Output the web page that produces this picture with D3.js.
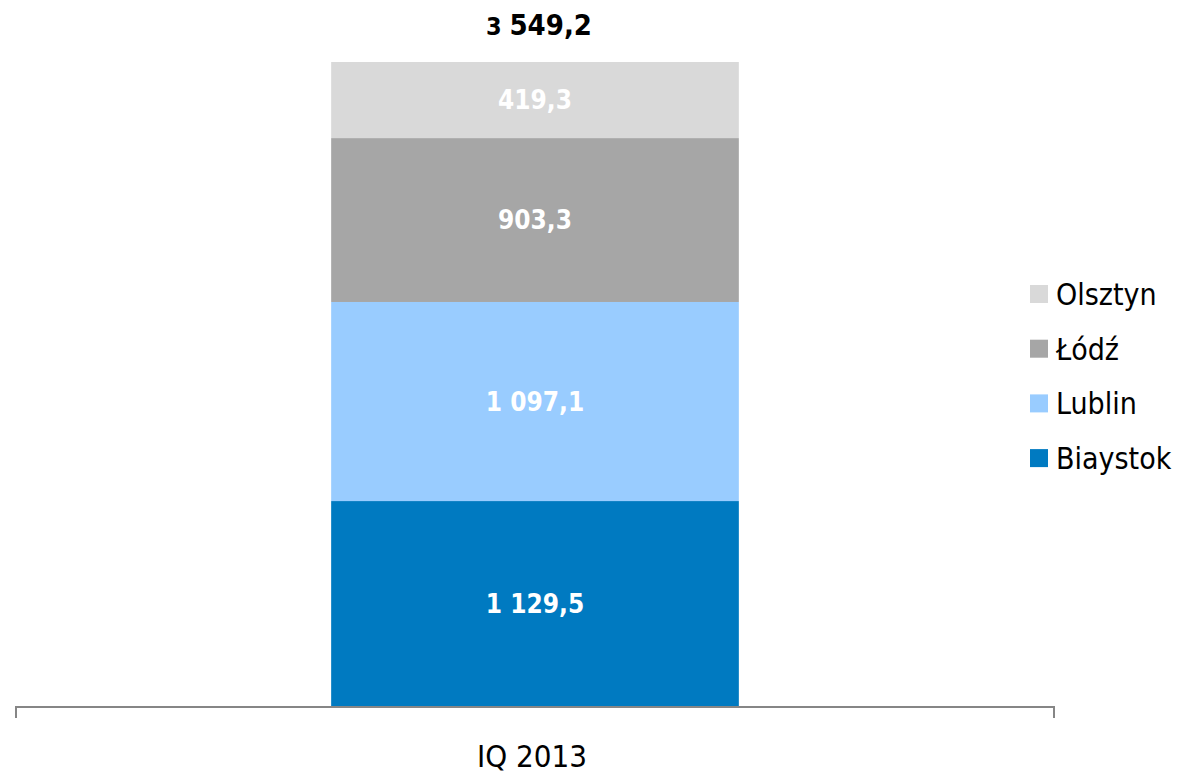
<!DOCTYPE html>
<html>
<head>
<meta charset="utf-8">
<script src="https://cdn.jsdelivr.net/npm/d3@7"></script>
<style>
  body { margin: 0; background: #fff; }
  svg { display: block; font-family: "DejaVu Sans Condensed", "DejaVu Sans", sans-serif; font-stretch: condensed; }
</style>
</head>
<body>
<svg id="chart"></svg>
<script>
// data
let categories = ["IQ 2013"];
let series = ["Biaystok", "Lublin", "Łódź", "Olsztyn"];
let values = {
  "Biaystok": [1129.5],
  "Lublin": [1097.1],
  "Łódź": [903.3],
  "Olsztyn": [419.3]
};
let colors = ["#007ac1", "#99ccff", "#a6a6a6", "#d9d9d9"];
let legendOrder = ["Olsztyn", "Łódź", "Lublin", "Biaystok"];

let store = {};

function fmt(v) {
  // polish style: space for thousands, comma for decimals
  let s = v.toFixed(1).replace(".", ",");
  let parts = s.split(",");
  let intPart = parts[0].replace(/\B(?=(\d{3})+(?!\d))/g, " ");
  return intPart + "," + parts[1];
}

function getConfig() {
  let width = 1180;
  let height = 777;
  let margin = { top: 62, bottom: 71, left: 16, right: 126 };
  let bodyWidth = width - margin.left - margin.right;
  let bodyHeight = height - margin.top - margin.bottom;
  let container = d3.select("#chart")
    .attr("width", width)
    .attr("height", height);
  return { width, height, margin, bodyWidth, bodyHeight, container };
}

function getScales(config) {
  let { margin, bodyWidth, bodyHeight } = config;
  let rows = categories.map((c, i) => {
    let r = { category: c };
    series.forEach(s => r[s] = values[s][i]);
    return r;
  });
  let stacked = d3.stack().keys(series)(rows);
  let totals = rows.map(r => d3.sum(series, s => r[s]));

  let xScale = d3.scaleBand()
    .domain(categories)
    .range([margin.left, margin.left + bodyWidth])
    .padding(0.436);

  let yScale = d3.scaleLinear()
    .domain([0, d3.max(totals)])
    .range([margin.top + bodyHeight, margin.top]);

  return { xScale, yScale, stacked, rows, totals };
}

function drawBars(scales, config) {
  let { container } = config;
  let { xScale, yScale, stacked, totals } = scales;

  let layers = container.append("g").selectAll("g")
    .data(stacked)
    .enter()
    .append("g")
    .attr("fill", (d, i) => colors[i]);

  layers.selectAll("rect")
    .data(d => d)
    .enter()
    .append("rect")
    .attr("x", d => xScale(d.data.category))
    .attr("width", xScale.bandwidth())
    .attr("y", d => yScale(d[1]))
    .attr("height", d => yScale(d[0]) - yScale(d[1]));

  layers.selectAll("text")
    .data(d => d)
    .enter()
    .append("text")
    .attr("x", d => xScale(d.data.category) + xScale.bandwidth() / 2)
    .attr("y", d => (yScale(d[0]) + yScale(d[1])) / 2)
    .attr("dy", "0.36em")
    .attr("text-anchor", "middle")
    .attr("fill", "#ffffff")
    .style("font-size", "26px")
    .style("font-weight", "bold")
    .text(d => fmt(d[1] - d[0]));

  // totals on top
  let tot = container.append("g").selectAll("text")
    .data(categories)
    .enter()
    .append("text")
    .attr("x", d => xScale(d) + xScale.bandwidth() / 2 + 4)
    .attr("y", (d, i) => yScale(totals[i]) - 27)
    .attr("text-anchor", "middle")
    .attr("fill", "#000")
    .style("font-size", "29px")
    .style("font-weight", "bold");

  tot.each(function(d, i) {
    let s = fmt(totals[i]).split(" ");
    let t = d3.select(this);
    t.append("tspan").style("font-size", "25px").text(s[0] + " ");
    t.append("tspan").text(s.slice(1).join(" "));
  });
}

function drawAxis(scales, config) {
  let { container, margin, bodyHeight } = config;
  let { xScale } = scales;
  let y0 = margin.top + bodyHeight;

  let axisX = d3.axisBottom(xScale).tickSize(0).tickPadding(38);
  let gX = container.append("g")
    .attr("transform", `translate(-3,${y0 + 1})`)
    .call(axisX);
  gX.select(".domain").remove();
  gX.selectAll("text")
    .style("font-family", "\"DejaVu Sans Condensed\", \"DejaVu Sans\", sans-serif")
    .style("font-size", "31px")
    .attr("fill", "#000");

  let [x0, x1] = xScale.range();
  let line = container.append("g")
    .attr("stroke", "#868686")
    .attr("stroke-width", 2)
    .attr("fill", "none");
  line.append("path")
    .attr("d", `M${x0},${y0 + 12}V${y0 + 1}H${x1}V${y0 + 12}`);
}

function drawLegend(config) {
  let { container } = config;
  let legend = container.append("g")
    .attr("transform", "translate(1030,294)");

  let items = legend.selectAll("g")
    .data(legendOrder)
    .enter()
    .append("g")
    .attr("transform", (d, i) => `translate(0,${i * 54.7})`);

  items.append("rect")
    .attr("x", 0)
    .attr("y", -9)
    .attr("width", 18)
    .attr("height", 18)
    .attr("fill", d => colors[series.indexOf(d)]);

  items.append("text")
    .attr("x", 26)
    .attr("dy", "0.36em")
    .style("font-size", "30px")
    .attr("fill", "#000")
    .text(d => d);
}

function showData() {
  store.config = getConfig();
  store.scales = getScales(store.config);
  drawBars(store.scales, store.config);
  drawAxis(store.scales, store.config);
  drawLegend(store.config);
}

showData();
</script>
</body>
</html>
